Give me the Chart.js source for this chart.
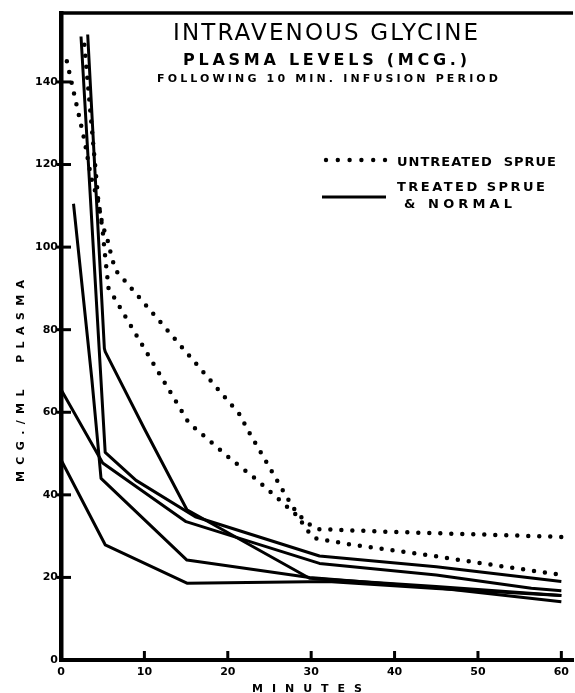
<!DOCTYPE html>
<html>
<head>
<meta charset="utf-8">
<title>Intravenous glycine</title>
<script src="https://cdn.jsdelivr.net/npm/chart.js@4.4.1/dist/chart.umd.min.js"></script>
<style>
  html, body { margin: 0; padding: 0; background: #fff; }
  canvas { display: block; }
</style>
</head>
<body>
<canvas id="glycineChart" width="575" height="693"></canvas>
<script>
// ticks
const minuteTicks = [0, 10, 20, 30, 40, 50, 60];
const levelTicks = [0, 20, 40, 60, 80, 100, 120, 140];

// untreated sprue (dotted)
const untreatedAMin = [2.8, 4.5, 5.0, 5.5, 5.8, 6.5, 7.6, 21.5, 22.2, 24.9, 26.9, 28.3, 29.7, 30.7, 40, 52, 60];
const untreatedAVal = [149, 110.7, 105, 102.5, 99.8, 94.5, 92, 59.3, 56.4, 47, 40, 35.5, 33, 31.7, 31, 30.3, 29.8];
const untreatedBMin = [0.7, 2.8, 3.6, 4.5, 5.0, 5.2, 5.7, 6.4, 10, 15.3, 17.3, 20.4, 23.5, 26.4, 28.3, 29.7, 30.4, 34.4, 40, 45, 50.5, 56, 60];
const untreatedBVal = [145, 126, 117, 110.7, 104, 99.6, 90, 87.7, 75.4, 57.5, 54, 48.6, 43.6, 38.4, 35, 31, 29.5, 28.1, 26.5, 25.1, 23.4, 21.8, 20.6];

// treated sprue & normal (solid)
const treated1Min = [0, 5.3, 15.1, 32, 45, 60];
const treated1Val = [48.5, 27.9, 18.6, 19, 17.3, 15.6];
const treated2Min = [0, 5, 15, 31, 45, 56.4, 60];
const treated2Val = [65.5, 47.7, 33.5, 23.4, 20.6, 17.4, 16.8];
const treated3Min = [1.5, 3.7, 4.3, 4.8, 15.1, 29.8, 45, 60];
const treated3Val = [110.5, 68, 55, 44, 24.2, 20, 17.5, 14.1];
const treated4Min = [2.4, 5.3, 9, 16.1, 31, 45, 60];
const treated4Val = [151, 50.3, 43.5, 34.7, 25.2, 22.6, 19];
const treated5Min = [3.2, 5.2, 5.3, 10, 15.1, 29.8, 45, 60];
const treated5Val = [151.5, 75.5, 74.7, 56, 36.4, 19.8, 17.8, 15.6];

const pts = (xs, ys) => xs.map((x, i) => ({ x: x, y: ys[i] }));

const dotted = (xs, ys) => ({
    data: pts(xs, ys),
    borderColor: '#000',
    borderWidth: 4.5,
    borderDash: [0, 11],
    borderCapStyle: 'round',
    pointRadius: 0,
    tension: 0,
    fill: false
});
const solid = (xs, ys) => ({
    data: pts(xs, ys),
    borderColor: '#000',
    borderWidth: 3,
    borderJoinStyle: 'round',
    pointRadius: 0,
    tension: 0,
    fill: false
});

// writes a string stretched to a given width
function spacedText(ctx, text, left, baseline, width) {
    ctx.letterSpacing = '0px';
    const w0 = ctx.measureText(text).width;
    const gap = text.length > 1 ? (width - w0) / (text.length - 1) : 0;
    ctx.letterSpacing = gap + 'px';
    ctx.textAlign = 'left';
    ctx.fillText(text, left, baseline);
    ctx.letterSpacing = '0px';
}

const paperBits = {
    id: 'paperBits',
    afterDraw(chart) {
        const ctx = chart.ctx;
        const area = chart.chartArea;
        const xs = chart.scales.x, ys = chart.scales.y;
        ctx.save();
        ctx.strokeStyle = '#000';
        ctx.fillStyle = '#000';
        ctx.lineCap = 'butt';

        // top frame line
        ctx.lineWidth = 3.5;
        ctx.beginPath();
        ctx.moveTo(area.left - 2, area.top);
        ctx.lineTo(area.right, area.top);
        ctx.stroke();

        // tick marks
        ctx.lineWidth = 3;
        minuteTicks.slice(1).forEach(m => {
            const px = xs.getPixelForValue(m);
            ctx.beginPath();
            ctx.moveTo(px, area.bottom);
            ctx.lineTo(px, area.bottom - 9);
            ctx.stroke();
        });
        levelTicks.slice(1).forEach(v => {
            const py = ys.getPixelForValue(v);
            ctx.beginPath();
            ctx.moveTo(area.left - 4, py);
            ctx.lineTo(area.left + 10, py);
            ctx.stroke();
        });

        // titles
        ctx.textBaseline = 'alphabetic';
        ctx.font = '23px "DejaVu Sans"';
        spacedText(ctx, 'INTRAVENOUS GLYCINE', 173, 40, 305);
        ctx.font = 'bold 16px "DejaVu Sans"';
        spacedText(ctx, 'PLASMA LEVELS (MCG.)', 183, 65, 284);
        ctx.font = 'bold 11px "DejaVu Sans"';
        spacedText(ctx, 'FOLLOWING 10 MIN. INFUSION PERIOD', 157, 82, 341);

        // legend
        ctx.font = 'bold 13px "DejaVu Sans"';
        spacedText(ctx, 'UNTREATED  SPRUE', 397, 166, 159);
        spacedText(ctx, 'TREATED SPRUE', 397, 191, 148);
        spacedText(ctx, '& NORMAL', 404, 208, 108);
        for (let i = 0; i < 6; i++) {
            ctx.beginPath();
            ctx.arc(326 + i * 11.8, 160, 2.2, 0, Math.PI * 2);
            ctx.fill();
        }
        ctx.lineWidth = 3;
        ctx.beginPath();
        ctx.moveTo(322, 197);
        ctx.lineTo(386, 197);
        ctx.stroke();

        // axis titles
        ctx.font = 'bold 11px "DejaVu Sans"';
        spacedText(ctx, 'MINUTES', 252, 692, 110);
        ctx.translate(24, 482);
        ctx.rotate(-Math.PI / 2);
        spacedText(ctx, 'MCG./ML  PLASMA', 0, 0, 202);
        ctx.restore();
    }
};

const ctx = document.getElementById('glycineChart').getContext('2d');
const glycineChart = new Chart(ctx, {
    type: 'line',
    data: {
        datasets: [
            dotted(untreatedAMin, untreatedAVal),
            dotted(untreatedBMin, untreatedBVal),
            solid(treated1Min, treated1Val),
            solid(treated2Min, treated2Val),
            solid(treated3Min, treated3Val),
            solid(treated4Min, treated4Val),
            solid(treated5Min, treated5Val)
        ]
    },
    options: {
        responsive: false,
        animation: false,
        layout: { padding: { top: 13, right: 0, left: 0, bottom: 0 } },
        plugins: {
            legend: { display: false },
            tooltip: { enabled: false }
        },
        scales: {
            x: {
                type: 'linear',
                min: 0,
                max: 61.4,
                afterFit: s => { s.height = 33; },
                afterBuildTicks: s => { s.ticks = minuteTicks.map(v => ({ value: v })); },
                grid: { display: false, drawTicks: false },
                border: { display: true, color: '#000', width: 4 },
                ticks: {
                    color: '#000',
                    padding: 6,
                    maxRotation: 0,
                    font: { family: 'DejaVu Sans', size: 11, weight: 'bold' }
                }
            },
            y: {
                min: 0,
                max: 156.7,
                afterFit: s => { s.width = 61; },
                afterBuildTicks: s => { s.ticks = levelTicks.map(v => ({ value: v })); },
                grid: { display: false, drawTicks: false },
                border: { display: true, color: '#000', width: 4.5 },
                ticks: {
                    color: '#000',
                    padding: 3,
                    font: { family: 'DejaVu Sans', size: 11, weight: 'bold' }
                }
            }
        }
    },
    plugins: [paperBits]
});
</script>
</body>
</html>
